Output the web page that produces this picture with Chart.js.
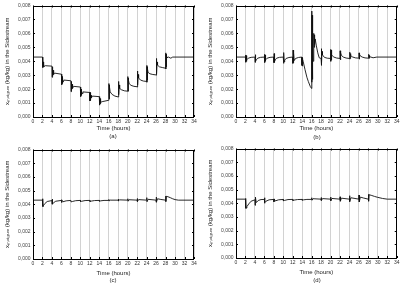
<!DOCTYPE html>
<html><head><meta charset="utf-8">
<script src="https://cdn.jsdelivr.net/npm/chart.js@4/dist/chart.umd.min.js"></script>
<style>
body{margin:0;background:#fff;width:401px;height:285px;position:relative;overflow:hidden;font-family:"Liberation Sans",Arial,sans-serif}
canvas{position:absolute}
.lab{position:absolute;font-size:6px;line-height:8px;width:20px;height:8px;text-align:center;color:#222222;white-space:nowrap;opacity:0.99;will-change:opacity}
</style></head><body>
<canvas id="ca" width="200" height="132" style="left:0;top:0"></canvas>
<canvas id="cb" width="198" height="132" style="left:203px;top:0"></canvas>
<canvas id="cc" width="200" height="133" style="left:0;top:144px"></canvas>
<canvas id="cd" width="198" height="133" style="left:203px;top:143px"></canvas>
<div class="lab" style="left:103px;top:132px">(a)</div>
<div class="lab" style="left:307px;top:133px">(b)</div>
<div class="lab" style="left:103px;top:276px">(c)</div>
<div class="lab" style="left:307px;top:276px">(d)</div>
<script>
// values in units of 0.001 kg/kg, time in hours
const xTickHours = [0,2,4,6,8,10,12,14,16,18,20,22,24,26,28,30,32,34];
const yTickLabels = ['0,000','0,001','0,002','0,003','0,004','0,005','0,006','0,007','0,008'];
const xTitle = 'Time (hours)';
const yTitle = 'xₘₒᵢₛₜᵤᵣₑ (kg/kg) in the Sidestream';

const seriesA = [
[0,4.3],[2,4.3],
[2.03,3.6],[2.07,4.15],[2.11,3.55],[2.15,3.95],[2.2,3.6],[2.28,3.78],[2.4,3.62],[2.6,3.68],[4,3.65],
[4.03,2.85],[4.07,3.6],[4.11,2.9],[4.15,3.5],[4.2,2.95],[4.26,3.35],[4.35,3.05],[4.55,3.15],[6,3.07],
[6.03,2.3],[6.07,3.0],[6.11,2.35],[6.15,2.9],[6.2,2.4],[6.26,2.8],[6.35,2.5],[6.55,2.65],[8,2.6],
[8.03,1.82],[8.07,2.55],[8.11,1.88],[8.15,2.45],[8.2,1.92],[8.26,2.35],[8.35,2.05],[8.55,2.2],[10,2.15],
[10.03,1.45],[10.07,2.1],[10.11,1.5],[10.15,2.0],[10.2,1.55],[10.26,1.9],[10.35,1.68],[10.55,1.8],[12,1.76],
[12.03,1.15],[12.07,1.75],[12.11,1.2],[12.15,1.65],[12.2,1.25],[12.26,1.55],[12.35,1.38],[12.55,1.5],[14,1.46],
[14.03,0.85],[14.07,1.42],[14.11,0.9],[14.15,1.32],[14.2,0.95],[14.26,1.22],[14.35,1.05],[14.6,1.1],[16,1.2],
[16.03,2.4],[16.07,1.3],[16.11,2.3],[16.15,1.4],[16.2,2.15],[16.3,1.8],[16.7,1.62],[17.3,1.5],[18,1.44],
[18.03,2.55],[18.07,1.5],[18.11,2.45],[18.15,1.6],[18.2,2.3],[18.3,2.05],[18.7,1.95],[19.3,1.88],[20,1.85],
[20.03,2.9],[20.07,1.85],[20.11,2.8],[20.15,1.95],[20.2,2.65],[20.3,2.4],[20.7,2.27],[21.3,2.2],[22,2.17],
[22.03,3.3],[22.07,2.15],[22.11,3.2],[22.15,2.3],[22.2,3.05],[22.3,2.8],[22.7,2.65],[23.3,2.58],[24,2.55],
[24.03,3.7],[24.07,2.5],[24.11,3.6],[24.15,2.65],[24.2,3.45],[24.3,3.2],[24.7,3.1],[25.3,3.05],[26,3.02],
[26.03,4.2],[26.07,3.0],[26.11,4.1],[26.15,3.1],[26.2,3.95],[26.3,3.72],[26.7,3.6],[27.3,3.55],[28,3.5],
[28.03,4.6],[28.07,3.45],[28.11,4.5],[28.15,3.6],[28.2,4.42],[28.3,4.25],[28.6,4.3],[29.1,4.22],[29.5,4.3],[34,4.3]
];
const seriesB = [
[0,4.3],[2,4.3],
[2.03,3.92],[2.07,4.45],[2.11,3.95],[2.15,4.4],[2.2,4.0],[2.3,4.1],[2.6,4.22],[3.2,4.28],[4,4.3],
[4.03,3.92],[4.07,4.47],[4.11,3.95],[4.15,4.42],[4.2,4.0],[4.3,4.1],[4.6,4.22],[5.2,4.28],[6,4.3],
[6.03,3.9],[6.07,4.5],[6.11,3.93],[6.15,4.45],[6.2,4.0],[6.3,4.1],[6.6,4.22],[7.2,4.28],[8,4.3],
[8.03,3.9],[8.07,4.55],[8.11,3.92],[8.15,4.5],[8.2,3.98],[8.3,4.1],[8.6,4.22],[9.2,4.28],[10,4.3],
[10.03,3.85],[10.07,4.62],[10.11,3.88],[10.15,4.55],[10.2,3.95],[10.3,4.08],[10.6,4.2],[11.2,4.27],[12,4.3],
[12.03,3.85],[12.07,4.8],[12.11,3.9],[12.15,4.7],[12.2,3.95],[12.25,4.6],[12.32,4.05],[12.6,4.2],[13.2,4.27],[13.9,4.3],
[13.95,3.7],[14.0,4.25],[14.05,3.65],[14.1,4.15],[14.2,4.0],[14.6,3.4],[15.0,2.85],[15.3,2.55],[15.7,2.2],[15.98,2.05],
[16.02,7.6],[16.06,2.5],[16.1,7.3],[16.14,2.7],[16.18,6.8],[16.22,3.2],[16.27,6.0],[16.32,4.0],[16.4,5.7],[16.5,6.0],[16.55,5.0],[16.6,5.9],[16.65,5.2],[16.75,5.6],[17.0,5.1],[17.3,4.6],[17.6,4.25],[18,4.2],
[18.03,4.9],[18.07,3.7],[18.11,4.85],[18.15,3.85],[18.2,4.7],[18.3,4.45],[18.7,4.28],[19.3,4.22],[20,4.2],
[20.03,4.85],[20.07,4.0],[20.11,4.8],[20.15,4.1],[20.2,4.65],[20.3,4.45],[20.7,4.3],[21.3,4.23],[22,4.2],
[22.03,4.75],[22.07,4.1],[22.11,4.7],[22.15,4.15],[22.2,4.6],[22.3,4.42],[22.7,4.3],[23.3,4.23],[24,4.2],
[24.03,4.65],[24.07,4.15],[24.11,4.62],[24.15,4.2],[24.2,4.55],[24.3,4.4],[24.7,4.3],[25.3,4.24],[26,4.22],
[26.03,4.6],[26.07,4.15],[26.11,4.58],[26.15,4.2],[26.2,4.5],[26.3,4.38],[26.7,4.3],[27.3,4.24],[28,4.22],
[28.03,4.5],[28.07,4.2],[28.11,4.48],[28.15,4.22],[28.2,4.42],[28.3,4.33],[29,4.25],[29.8,4.3],[34,4.3]
];
const seriesC = [
[0,4.3],[2,4.3],
[2.03,3.82],[2.08,4.4],[2.12,3.85],[2.2,3.9],[2.5,4.05],[3,4.2],[4,4.27],
[4.03,4.0],[4.08,4.38],[4.12,4.02],[4.3,4.1],[4.8,4.22],[6,4.28],
[6.03,4.12],[6.08,4.33],[6.3,4.18],[7,4.25],[8,4.28],
[8.03,4.17],[8.3,4.2],[9,4.26],[10,4.28],
[10.03,4.2],[10.3,4.22],[11,4.27],[12,4.28],
[12.03,4.2],[12.3,4.23],[13,4.27],[14,4.28],
[14.03,4.22],[14.3,4.25],[15,4.28],[16,4.28],
[16.03,4.35],[16.08,4.24],[16.3,4.3],[18,4.3],
[18.03,4.37],[18.08,4.24],[18.3,4.32],[20,4.3],
[20.03,4.4],[20.08,4.22],[20.3,4.33],[22,4.3],
[22.03,4.42],[22.08,4.2],[22.3,4.34],[24,4.3],
[24.03,4.48],[24.08,4.18],[24.3,4.36],[26,4.3],
[26.03,4.52],[26.08,4.15],[26.3,4.4],[27,4.35],[28,4.3],
[28.03,4.6],[28.08,4.2],[28.15,4.58],[28.5,4.55],[29,4.48],[29.5,4.4],[30,4.34],[30.7,4.3],[34,4.3]
];
const seriesD = [
[0,4.3],[2,4.3],
[2.03,3.62],[2.08,4.35],[2.12,3.65],[2.3,3.75],[2.7,3.95],[3.2,4.15],[4,4.25],
[4.03,3.85],[4.08,4.45],[4.12,3.9],[4.16,4.4],[4.3,4.05],[4.7,4.2],[5.3,4.27],[6,4.28],
[6.03,4.0],[6.08,4.4],[6.12,4.05],[6.35,4.15],[7,4.25],[8,4.28],
[8.03,4.1],[8.08,4.32],[8.3,4.17],[9,4.25],[10,4.28],
[10.03,4.18],[10.3,4.21],[11,4.27],[12,4.28],
[12.03,4.2],[12.3,4.23],[13,4.27],[14,4.28],
[14.03,4.22],[14.3,4.25],[15,4.28],[16,4.28],
[16.03,4.4],[16.08,4.22],[16.3,4.33],[18,4.3],
[18.03,4.42],[18.08,4.2],[18.3,4.34],[20,4.3],
[20.03,4.45],[20.08,4.18],[20.3,4.35],[22,4.3],
[22.03,4.47],[22.08,4.15],[22.3,4.37],[24,4.3],
[24.03,4.55],[24.08,4.12],[24.3,4.4],[26,4.3],
[26.03,4.6],[26.08,4.1],[26.3,4.45],[27,4.38],[28,4.3],
[28.03,4.65],[28.08,4.15],[28.15,4.62],[28.6,4.58],[29.3,4.5],[30,4.43],[31,4.35],[32,4.3],[34,4.3]
];

const framePlugin = {
  id:'frame',
  afterDatasetsDraw(chart){
    const {ctx, chartArea:{left,right,top,bottom}, scales:{x,y}} = chart;
    ctx.save();
    ctx.strokeStyle='#000'; ctx.lineWidth=1;
    ctx.beginPath();
    x.ticks.forEach(t=>{const p=Math.round(x.getPixelForValue(t.value))+0.5;
      ctx.moveTo(p,bottom); ctx.lineTo(p,bottom-2); ctx.moveTo(p,top); ctx.lineTo(p,top+2);});
    y.ticks.forEach(t=>{const p=Math.round(y.getPixelForValue(t.value))+0.5;
      ctx.moveTo(left,p); ctx.lineTo(left+2,p); ctx.moveTo(right,p); ctx.lineTo(right-2,p);});
    ctx.stroke();
    ctx.strokeRect(Math.round(left)+0.5, Math.round(top)+0.5, Math.round(right-left)-1, Math.round(bottom-top)-1);
    ctx.restore();
  }
};

function makePanel(id, data, pad, xh){
  new Chart(document.getElementById(id), {
    type:'line',
    data:{datasets:[{data, borderColor:'#111111', borderWidth:0.9, pointRadius:0, tension:0, fill:false}]},
    options:{
      responsive:false, animation:false, devicePixelRatio:1,
      layout:{padding:pad},
      plugins:{legend:{display:false}, tooltip:{enabled:false}},
      scales:{
        x:{type:'linear', min:0, max:34,
          afterBuildTicks(s){ s.ticks = xTickHours.map(v=>({value:v})); },
          afterFit(s){ s.height = xh; },
          grid:{color:'#d2d2d2', lineWidth:1, drawTicks:false},
          border:{display:false},
          ticks:{padding:1.5, font:{size:5, family:'Liberation Sans'}, color:'#333', maxRotation:0, autoSkip:false},
          title:{display:true, text:xTitle, font:{size:6, family:'Liberation Sans'}, color:'#222', padding:{top:0,bottom:0}}
        },
        y:{type:'linear', min:0, max:8,
          afterBuildTicks(s){ s.ticks = yTickLabels.map((l,i)=>({value:i})); },
          afterFit(s){ s.width = 33; },
          grid:{display:false, drawTicks:false},
          border:{display:false},
          ticks:{padding:2.5, font:{size:5, family:'Liberation Sans'}, color:'#444', callback:(v,i)=>yTickLabels[i]},
          title:{display:true, text:yTitle, font:{size:6, family:'Liberation Sans'}, color:'#222', padding:{top:4,bottom:0}}
        }
      }
    },
    plugins:[framePlugin]
  });
}
makePanel('ca', seriesA, {top:5,right:6,left:0,bottom:0}, 15);
makePanel('cb', seriesB, {top:5,right:3,left:0,bottom:0}, 15);
makePanel('cc', seriesC, {top:5,right:6,left:0,bottom:0}, 18);
makePanel('cd', seriesD, {top:5,right:3,left:0,bottom:0}, 18);
</script>
</body></html>
